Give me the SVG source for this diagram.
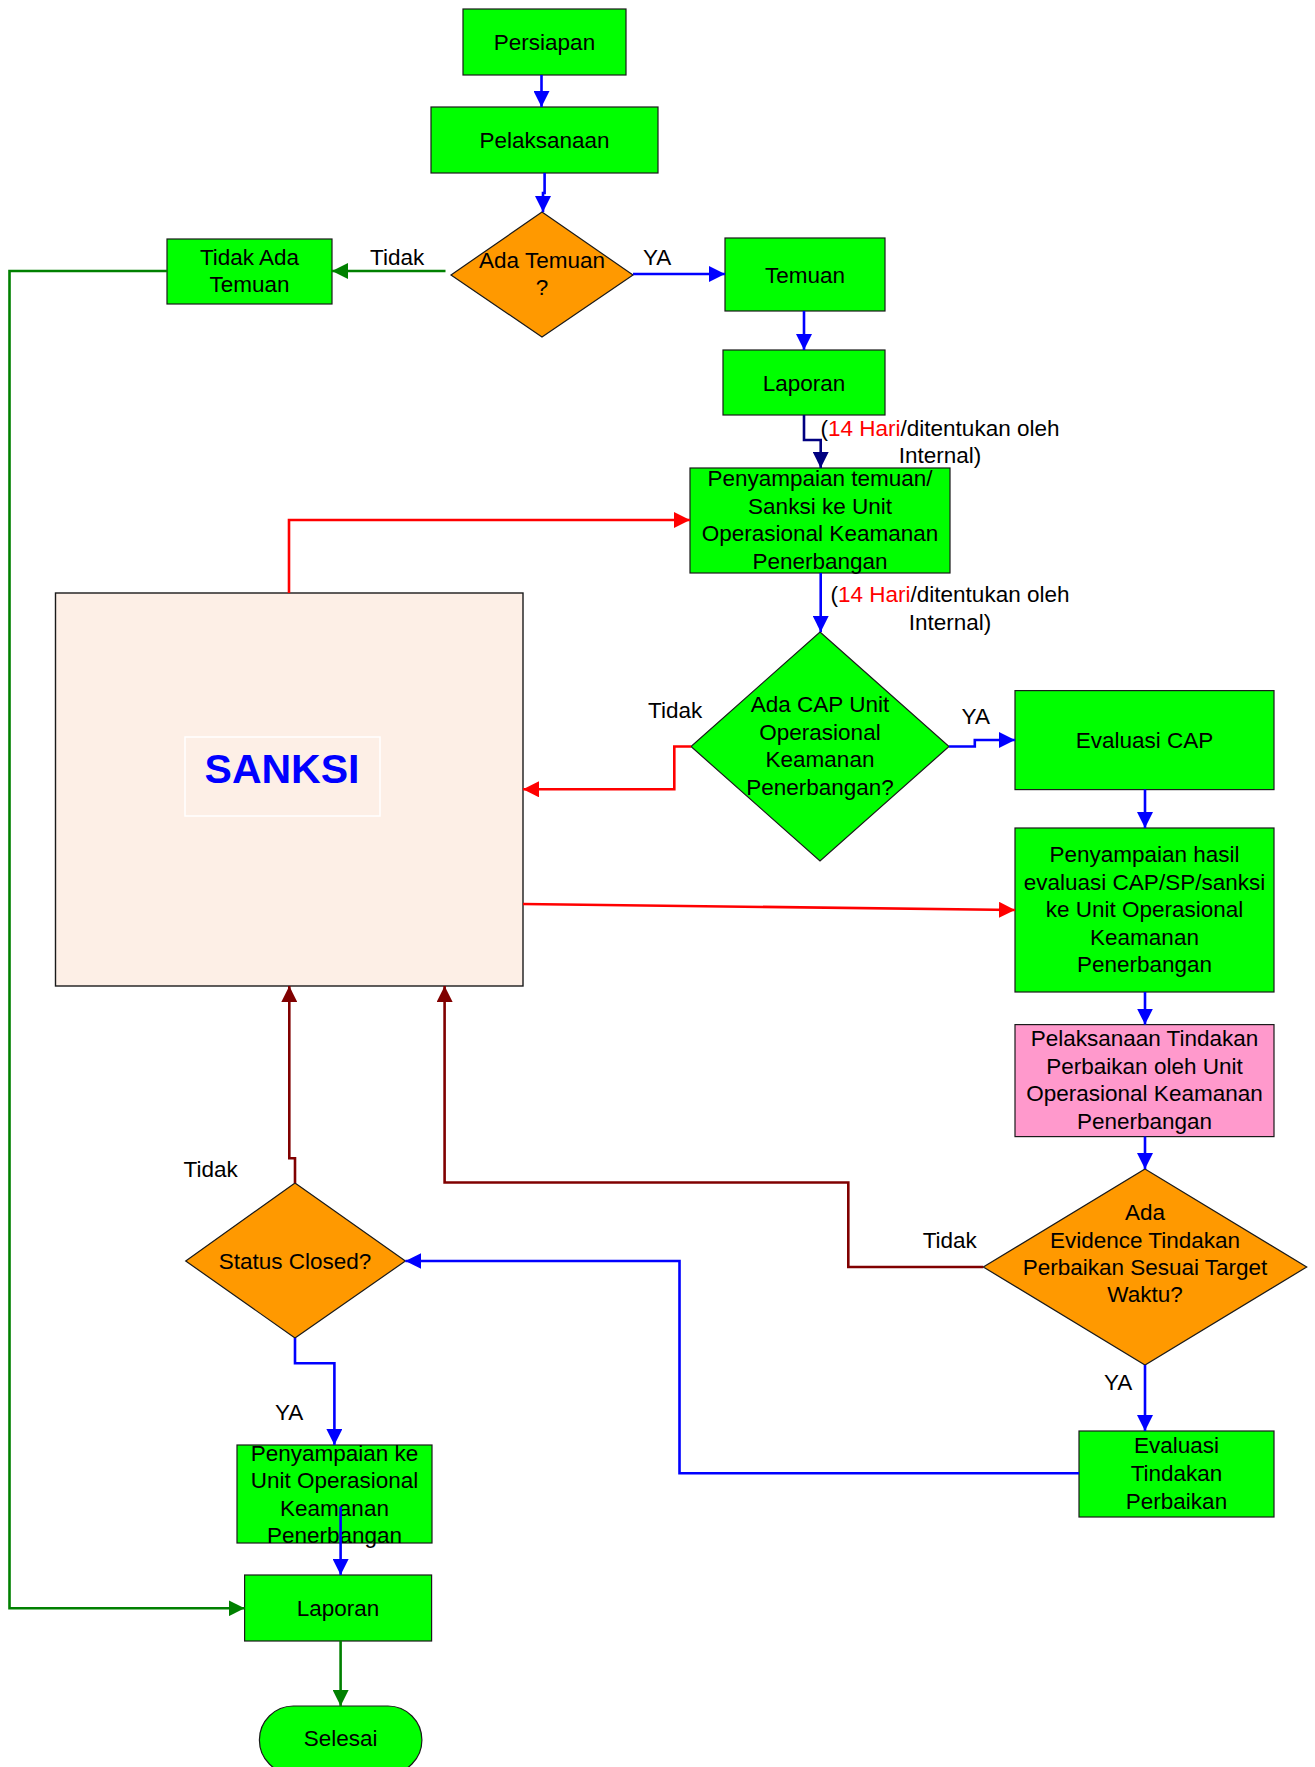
<svg xmlns="http://www.w3.org/2000/svg" width="1315" height="1767" viewBox="0 0 1315 1767">
<style>
text{font-family:"Liberation Sans",Arial,sans-serif;font-size:22.5px;fill:#000;text-anchor:middle}
.lbl{text-anchor:start}
.box{fill:#00FF00;stroke:#1a1a1a;stroke-width:1.2}
.dia{fill:#FF9900;stroke:#1a1a1a;stroke-width:1.2}
.gdia{fill:#00FF00;stroke:#1a1a1a;stroke-width:1.2}
.pink{fill:#FF99CC;stroke:#1a1a1a;stroke-width:1.2}
.c{fill:none;stroke-width:2.6;stroke-linejoin:miter}
.blue{stroke:#0000FF}
.navy{stroke:#000080}
.red{stroke:#FF0000}
.dred{stroke:#800000}
.green{stroke:#008000}
.r{fill:#FF0000}
</style>
<defs>
<marker id="aB" markerUnits="userSpaceOnUse" markerWidth="16" markerHeight="16" refX="16" refY="8" orient="auto"><path d="M0,0 L16,8 L0,16 z" fill="#0000FF"/></marker>
<marker id="aN" markerUnits="userSpaceOnUse" markerWidth="16" markerHeight="16" refX="16" refY="8" orient="auto"><path d="M0,0 L16,8 L0,16 z" fill="#000080"/></marker>
<marker id="aR" markerUnits="userSpaceOnUse" markerWidth="16" markerHeight="16" refX="16" refY="8" orient="auto"><path d="M0,0 L16,8 L0,16 z" fill="#FF0000"/></marker>
<marker id="aD" markerUnits="userSpaceOnUse" markerWidth="16" markerHeight="16" refX="16" refY="8" orient="auto"><path d="M0,0 L16,8 L0,16 z" fill="#800000"/></marker>
<marker id="aG" markerUnits="userSpaceOnUse" markerWidth="16" markerHeight="16" refX="16" refY="8" orient="auto"><path d="M0,0 L16,8 L0,16 z" fill="#008000"/></marker>
</defs>
<rect width="1315" height="1767" fill="#FFFFFF"/>

<g id="sanksi">
<rect x="55.5" y="593" width="467.5" height="393" fill="#FDEFE6" stroke="#1a1a1a" stroke-width="1.4"/>
<rect x="185" y="737" width="195" height="79" fill="none" stroke="#FFFFFF" stroke-width="1.5"/>
<text x="282" y="783" style="font-size:41px;font-weight:bold;fill:#0000FF">SANKSI</text>
</g>

<g id="persiapan">
<rect class="box" x="463" y="9" width="163" height="66"/>
<text x="544.5" y="50">Persiapan</text>
</g>
<g id="pelaksanaan">
<rect class="box" x="431" y="107" width="227" height="66"/>
<text x="544.5" y="148">Pelaksanaan</text>
</g>
<g id="ada-temuan">
<polygon class="dia" points="542,212 633,275 542,337 451,275"/>
<text x="542" y="268">Ada Temuan</text>
<text x="542" y="295">?</text>
</g>
<g id="tidak-ada-temuan">
<rect class="box" x="167" y="239" width="165" height="65"/>
<text x="249.5" y="265">Tidak Ada</text>
<text x="249.5" y="292">Temuan</text>
</g>
<g id="temuan">
<rect class="box" x="725" y="238" width="160" height="73"/>
<text x="805" y="283">Temuan</text>
</g>
<g id="laporan1">
<rect class="box" x="723" y="350" width="162" height="65"/>
<text x="804" y="391">Laporan</text>
</g>
<g id="penyampaian-temuan">
<rect class="box" x="690" y="468" width="260" height="105"/>
<text x="820" y="486">Penyampaian temuan/</text>
<text x="820" y="514">Sanksi ke Unit</text>
<text x="820" y="541">Operasional Keamanan</text>
<text x="820" y="569">Penerbangan</text>
</g>
<g id="ada-cap">
<polygon class="gdia" points="820,632 949,746.5 820,861 691,746.5"/>
<text x="820" y="712">Ada CAP Unit</text>
<text x="820" y="740">Operasional</text>
<text x="820" y="767">Keamanan</text>
<text x="820" y="795">Penerbangan?</text>
</g>
<g id="evaluasi-cap">
<rect class="box" x="1015" y="690.6" width="259" height="99"/>
<text x="1144.5" y="748">Evaluasi CAP</text>
</g>
<g id="penyampaian-hasil">
<rect class="box" x="1015" y="828" width="259" height="164"/>
<text x="1144.5" y="862">Penyampaian hasil</text>
<text x="1144.5" y="890">evaluasi CAP/SP/sanksi</text>
<text x="1144.5" y="917">ke Unit Operasional</text>
<text x="1144.5" y="945">Keamanan</text>
<text x="1144.5" y="972">Penerbangan</text>
</g>
<g id="pelaksanaan-tindakan">
<rect class="pink" x="1015" y="1024.6" width="259" height="112"/>
<text x="1144.5" y="1046">Pelaksanaan Tindakan</text>
<text x="1144.5" y="1074">Perbaikan oleh Unit</text>
<text x="1144.5" y="1101">Operasional Keamanan</text>
<text x="1144.5" y="1129">Penerbangan</text>
</g>
<g id="ada-evidence">
<polygon class="dia" points="1145,1169 1306.7,1267 1145,1365 983.3,1267"/>
<text x="1145" y="1220">Ada</text>
<text x="1145" y="1248">Evidence Tindakan</text>
<text x="1145" y="1275">Perbaikan Sesuai Target</text>
<text x="1145" y="1302">Waktu?</text>
</g>
<g id="evaluasi-tindakan">
<rect class="box" x="1079" y="1431" width="195" height="86"/>
<text x="1176.5" y="1453">Evaluasi</text>
<text x="1176.5" y="1481">Tindakan</text>
<text x="1176.5" y="1509">Perbaikan</text>
</g>
<g id="status-closed">
<polygon class="dia" points="295,1183 405.4,1261 295,1338 185.7,1261"/>
<text x="295" y="1269">Status Closed?</text>
</g>
<g id="penyampaian-ke">
<rect class="box" x="237" y="1445" width="195" height="98"/>
<text x="334.5" y="1461">Penyampaian ke</text>
<text x="334.5" y="1488">Unit Operasional</text>
<text x="334.5" y="1516">Keamanan</text>
<text x="334.5" y="1543">Penerbangan</text>
</g>
<g id="laporan2">
<rect class="box" x="244.6" y="1575" width="187" height="66"/>
<text x="338" y="1616">Laporan</text>
</g>
<g id="selesai">
<rect class="box" x="259.4" y="1706" width="162.5" height="68" rx="34" ry="34"/>
<text x="340.6" y="1746">Selesai</text>
</g>

<g id="connectors">
<path class="c blue" d="M541.5 75 V107" marker-end="url(#aB)"/>
<path class="c blue" d="M544.6 173 V193 H543 V212" marker-end="url(#aB)"/>
<path class="c green" d="M445.5 271 H332" marker-end="url(#aG)"/>
<path class="c green" d="M167 271 H9.5 V1608.3 H244.6" marker-end="url(#aG)"/>
<path class="c blue" d="M633 274 H725" marker-end="url(#aB)"/>
<path class="c blue" d="M804 311 V350" marker-end="url(#aB)"/>
<path class="c navy" d="M804 415 V440 H820.7 V468" marker-end="url(#aN)"/>
<path class="c red" d="M289 593 V520 H690" marker-end="url(#aR)"/>
<path class="c blue" d="M820.7 573 V632" marker-end="url(#aB)"/>
<path class="c red" d="M691 746.5 H674.3 V789.3 H523" marker-end="url(#aR)"/>
<path class="c blue" d="M949 746.5 H974.8 V740 H1015" marker-end="url(#aB)"/>
<path class="c blue" d="M1145 789.4 V828" marker-end="url(#aB)"/>
<path class="c red" d="M523 904 L1015 910" marker-end="url(#aR)"/>
<path class="c blue" d="M1145 992 V1024.6" marker-end="url(#aB)"/>
<path class="c blue" d="M1145 1136.5 V1169" marker-end="url(#aB)"/>
<path class="c dred" d="M983.3 1267 H848.3 V1182.5 H444.6 V986" marker-end="url(#aD)"/>
<path class="c blue" d="M1145 1365 V1431" marker-end="url(#aB)"/>
<path class="c blue" d="M1079 1473.3 H679.5 V1261 H405.4" marker-end="url(#aB)"/>
<path class="c dred" d="M295 1183 V1158.3 H289.3 V986" marker-end="url(#aD)"/>
<path class="c blue" d="M295 1338 V1363.3 H334.4 V1445" marker-end="url(#aB)"/>
<path class="c blue" d="M340.6 1506.7 V1575" marker-end="url(#aB)"/>
<path class="c green" d="M340.6 1641 V1706" marker-end="url(#aG)"/>
<text class="lbl" x="370" y="265">Tidak</text>
<text class="lbl" x="643" y="265">YA</text>
<text x="940" y="436">(<tspan class="r">14 Hari</tspan>/ditentukan oleh</text>
<text x="940" y="463">Internal)</text>
<text x="950" y="602">(<tspan class="r">14 Hari</tspan>/ditentukan oleh</text>
<text x="950" y="630">Internal)</text>
<text class="lbl" x="648" y="718">Tidak</text>
<text class="lbl" x="961.6" y="724">YA</text>
<text class="lbl" x="922.7" y="1248">Tidak</text>
<text class="lbl" x="1104" y="1390">YA</text>
<text class="lbl" x="183.5" y="1177">Tidak</text>
<text class="lbl" x="275" y="1420">YA</text>
</g>
</svg>
